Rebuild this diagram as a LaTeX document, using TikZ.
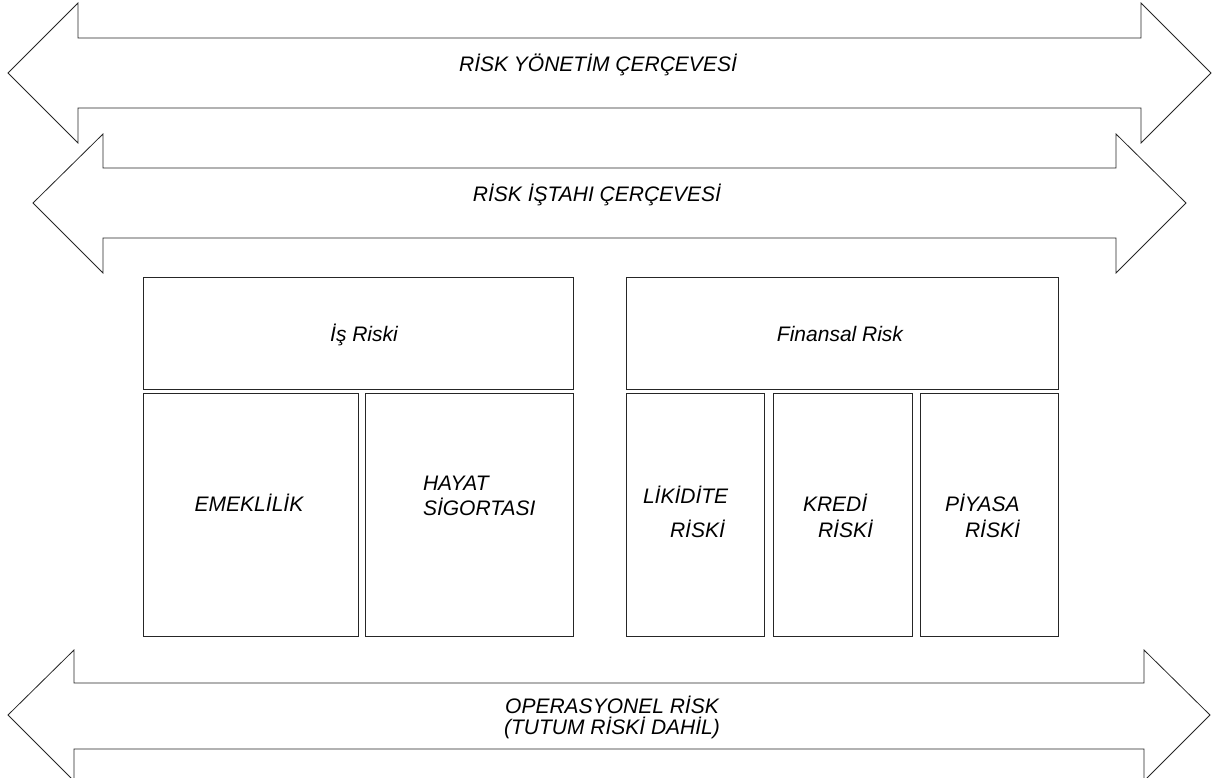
\documentclass[tikz,border=0pt]{standalone}
\usepackage{fontspec}
\setmainfont{Liberation Sans}
\begin{document}
\begin{tikzpicture}[x=1pt,y=-1pt,
  arrowshape/.style={draw=black!85,line width=0.8pt,fill=white,line join=miter},
  box/.style={draw=black!85,line width=0.8pt,rectangle,inner sep=0pt,outer sep=0pt},
  lbl/.style={inner sep=0pt,outer sep=0pt,font=\itshape\fontsize{21}{24}\selectfont,text=black},
  lblw/.style={lbl,anchor=base west},
  lblc/.style={lbl,anchor=base}]
\path[use as bounding box] (0,0) rectangle (1225,778);
% arrow 1
\draw[arrowshape] (8,73) -- (78,3) -- (78,38) -- (1141,38) -- (1141,3) -- (1211,73)
  -- (1141,143) -- (1141,108) -- (78,108) -- (78,143) -- cycle;
% arrow 2
\draw[arrowshape] (33,203) -- (103,134) -- (103,168) -- (1116,168) -- (1116,134) -- (1186,203)
  -- (1116,273) -- (1116,238) -- (103,238) -- (103,273) -- cycle;
% arrow 3
\draw[arrowshape] (8,715) -- (74,650) -- (74,683) -- (1144,683) -- (1144,650) -- (1210,715)
  -- (1144,781) -- (1144,749) -- (74,749) -- (74,781) -- cycle;
\node[lblc] (t1) at (598,72) {RİSK YÖNETİM ÇERÇEVESİ};
\node[lblc] (t2) at (597,201) {RİSK İŞTAHI ÇERÇEVESİ};
\node[lblc] (t3a) at (612,713) {OPERASYONEL RİSK};
\node[lblc] (t3b) at (612,734) {(TUTUM RİSKİ DAHİL)};
% boxes
\node[box,minimum width=430pt,minimum height=112pt] (isr) at (358,333) {};
\node[box,minimum width=432pt,minimum height=112pt] (fin) at (842,333) {};
\node[box,minimum width=215pt,minimum height=243pt] (eme) at (250.5,514.5) {};
\node[box,minimum width=208pt,minimum height=243pt] (hay) at (469,514.5) {};
\node[box,minimum width=138pt,minimum height=243pt] (lik) at (695,514.5) {};
\node[box,minimum width=139pt,minimum height=243pt] (kre) at (842.5,514.5) {};
\node[box,minimum width=138pt,minimum height=243pt] (piy) at (989,514.5) {};
% labels
\node[lblc] (isrt) at (364,341) {İş Riski};
\node[lblc] (fint) at (840,341) {Finansal Risk};
\node[lblc] (emet) at (249,511) {EMEKLİLİK};
\node[lblw] (hay1) at (423,490) {HAYAT};
\node[lblw] (hay2) at (423,515) {SİGORTASI};
\node[lblw] (lik1) at (643,503) {LİKİDİTE};
\node[lblw] (lik2) at (670,537) {RİSKİ};
\node[lblw] (kre1) at (803,511) {KREDİ};
\node[lblw] (kre2) at (818,537) {RİSKİ};
\node[lblw] (piy1) at (945,511) {PİYASA};
\node[lblw] (piy2) at (965,537) {RİSKİ};
\end{tikzpicture}
\end{document}
